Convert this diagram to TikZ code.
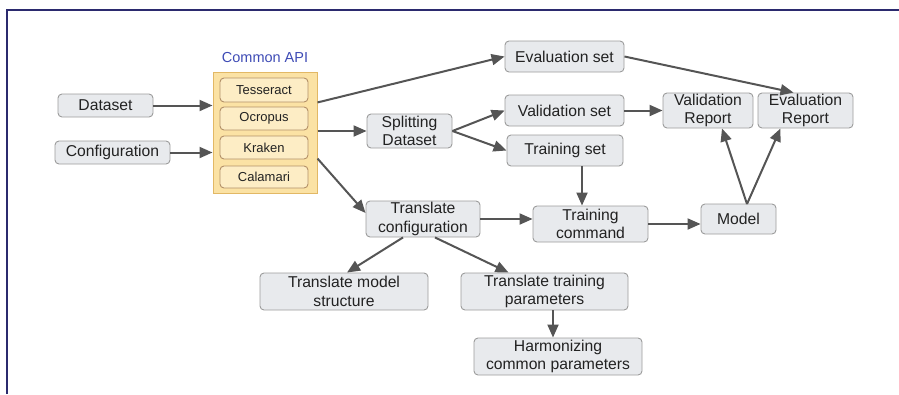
\documentclass[tikz,border=0pt]{standalone}
\usepackage{fontspec}
\setmainfont{Liberation Sans}
\usetikzlibrary{arrows.meta,calc}
\definecolor{frame}{HTML}{2B2A6E}
\definecolor{boxfill}{HTML}{E8EAED}
\definecolor{boxline}{HTML}{9C9C9C}
\definecolor{apifill}{HTML}{FBE2A4}
\definecolor{apiline}{HTML}{E2B865}
\definecolor{innerfill}{HTML}{FDEDC5}
\definecolor{innerline}{HTML}{B39068}
\definecolor{arrowc}{HTML}{555555}
\definecolor{apiblue}{HTML}{3E4BB5}
\definecolor{txt}{HTML}{222222}
\begin{document}
\begin{tikzpicture}[x=1pt,y=-1pt,
  box/.style={draw=boxline,fill=boxfill,rounded corners=4pt,line width=0.9pt,
    inner sep=0pt,align=center,text=txt,font=\fontsize{15.7}{18.5}\selectfont},
  inner/.style={draw=innerline,fill=innerfill,rounded corners=4pt,line width=0.9pt,
    inner sep=0pt,text=txt,minimum width=88pt,font=\fontsize{13}{15}\selectfont},
  arr/.style={draw=arrowc,line width=2pt,-{Triangle[length=13pt,width=11pt]}}]
\useasboundingbox (0,0) rectangle (899,394);
\draw[frame,line width=2.5pt] (7,394) -- (7,10) -- (899,10);

\node[box,minimum width=95pt,minimum height=23pt] (dataset) at (105.5,105.5) {Dataset};
\node[box,minimum width=115pt,minimum height=23pt] (config) at (112.5,152.5) {Configuration};

\node[draw=apiline,fill=apifill,line width=1pt,minimum width=104pt,minimum height=121pt,inner sep=0pt] (api) at (265,132.5) {};
\node[text=apiblue,font=\fontsize{14.5}{16}\selectfont] (apilabel) at (265,58) {Common API};
\node[inner,minimum height=24pt] (tess) at (264,90) {Tesseract};
\node[inner,minimum height=23pt] (ocro) at (264,118.5) {Ocropus};
\node[inner,minimum height=23pt] (krak) at (264,147.5) {Kraken};
\node[inner,minimum height=22pt] (cala) at (264,177) {Calamari};

\node[box,minimum width=85pt,minimum height=34pt] (split) at (409.5,131) {Splitting\\Dataset};
\node[box,minimum width=119pt,minimum height=31pt] (evalset) at (564.5,56.5) {Evaluation set};
\node[box,minimum width=119pt,minimum height=31pt] (valset) at (564.5,110.5) {Validation set};
\node[box,minimum width=116pt,minimum height=31pt] (trainset) at (565,150.5) {Training set};
\node[box,minimum width=90pt,minimum height=35pt] (valrep) at (708,110.5) {Validation\\Report};
\node[box,minimum width=95pt,minimum height=35pt] (evalrep) at (805.5,110.5) {Evaluation\\Report};
\node[box,minimum width=114pt,minimum height=36pt] (transconf) at (423,219) {Translate\\configuration};
\node[box,minimum width=115pt,minimum height=36pt] (traincmd) at (590.5,224) {Training\\command};
\node[box,minimum width=75pt,minimum height=30pt] (model) at (738.5,219) {Model};
\node[box,minimum width=168pt,minimum height=37pt] (tms) at (344,291.5) {Translate model\\structure};
\node[box,minimum width=167pt,minimum height=37pt] (ttp) at (544.5,291.5) {Translate training\\parameters};
\node[box,minimum width=168pt,minimum height=37pt] (harm) at (558,356.5) {Harmonizing\\common parameters};

\coordinate (tx) at (582,0);
\coordinate (hx) at (553,0);
\coordinate (mtop) at (747,204);

\draw[arr] (dataset.east) -- (dataset.east -| api.west);
\draw[arr] (config.east) -- (config.east -| api.west);
\draw[arr] (api.east |- tess.south) -- (evalset.west);
\draw[arr] (api.east |- split.west) -- (split.west);
\draw[arr] ([yshift=7pt]api.east |- cala.north) -- ([yshift=6pt]transconf.west);
\draw[arr] (split.east) -- (valset.west);
\draw[arr] (split.east) -- (trainset.west);
\draw[arr] (evalset.east) -- ([xshift=-12pt]evalrep.north);
\draw[arr] (valset.east) -- (valset.east -| valrep.west);
\draw[arr] (trainset.south -| tx) -- (traincmd.north -| tx);
\draw[arr] (transconf.east) -- (transconf.east -| traincmd.west);
\draw[arr] (traincmd.east) -- (traincmd.east -| model.west);
\draw[arr] (mtop) -- ([xshift=14pt]valrep.south);
\draw[arr] (mtop) -- ([xshift=-25pt]evalrep.south);
\draw[arr] ([xshift=-20pt]transconf.south) -- ([xshift=3pt]tms.north);
\draw[arr] ([xshift=12pt]transconf.south) -- ([xshift=-36pt]ttp.north);
\draw[arr] (ttp.south -| hx) -- (harm.north -| hx);
\end{tikzpicture}
\end{document}
